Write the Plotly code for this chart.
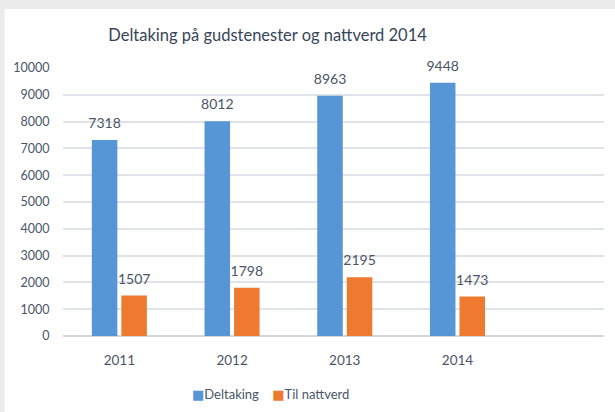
import plotly.graph_objects as go

years = ["2011", "2012", "2013", "2014"]
deltaking = [7318, 8012, 8963, 9448]
til_nattverd = [1507, 1798, 2195, 1473]
y_ticks = [0, 1000, 2000, 3000, 4000, 5000, 6000, 7000, 8000, 9000, 10000]
y_tick_labels = [str(v) for v in y_ticks]
series_names = ["Deltaking", "Til nattverd"]
series_colors = ["#5796d6", "#ee7a30"]

FONT = "Lato"
TXT = "#4a5568"

fig = go.Figure()
for name, vals, col in zip(series_names, [deltaking, til_nattverd], series_colors):
    fig.add_trace(go.Bar(
        name=name, x=years, y=vals,
        marker=dict(color=col, line=dict(width=0)),
        texttemplate="<span style='font-size:14px'>%{y}</span><br> ",
        textposition="outside", cliponaxis=False,
        constraintext="none",
        textfont=dict(family=FONT, size=6, color=TXT),
        showlegend=False,
    ))

legend_text = "&nbsp;&nbsp;&nbsp;&nbsp;".join(
    f"<span style='color:{c};font-family:DejaVu Sans;font-size:13px'>■</span>{n}"
    for n, c in zip(series_names, series_colors)
)

fig.update_layout(
    width=615, height=412,
    margin=dict(l=63, r=11, t=68, b=76),
    paper_bgcolor="white", plot_bgcolor="white",
    barmode="group", bargap=0.476, bargroupgap=0.136,
    font=dict(family=FONT, color=TXT, size=14),
    title=dict(text="Deltaking på gudstenester og nattverd 2014",
               x=0.435, xanchor="center", y=0.915, yanchor="middle",
               font=dict(family=FONT, size=16.5, color="#36455a")),
    xaxis=dict(range=[-0.5, 4.3], showgrid=False, showline=False,
               ticks="outside", ticklen=12, tickcolor="rgba(0,0,0,0)",
               tickfont=dict(size=13.5, color=TXT), zeroline=False),
    yaxis=dict(range=[0, 10000], tickvals=y_ticks, ticktext=y_tick_labels,
               showgrid=True,
               gridcolor="#e0e3e8", gridwidth=1.5, zeroline=True,
               zerolinecolor="#d4d8de", zerolinewidth=2, showline=False,
               ticks="outside", ticklen=10, tickcolor="rgba(0,0,0,0)",
               tickfont=dict(size=12.5, color=TXT)),
    annotations=[dict(text=legend_text, xref="paper", yref="paper",
                      x=0.383, y=-0.216, xanchor="center", yanchor="middle",
                      showarrow=False, font=dict(family=FONT, size=13, color=TXT))],
    shapes=[
        dict(type="rect", xref="paper", yref="paper", x0=-0.2, x1=1.1,
             y0=1.22, y1=1.3, fillcolor="#ebebeb", line=dict(width=0),
             layer="below"),
        dict(type="rect", xref="paper", yref="paper", x0=-0.2, x1=-0.108,
             y0=-0.3, y1=1.3, fillcolor="#ebebeb", line=dict(width=0),
             layer="below"),
    ],
)

fig.write_html("out.html", config={"displayModeBar": False},
               post_script="document.body.style.margin='0';document.body.style.overflow='hidden';")
